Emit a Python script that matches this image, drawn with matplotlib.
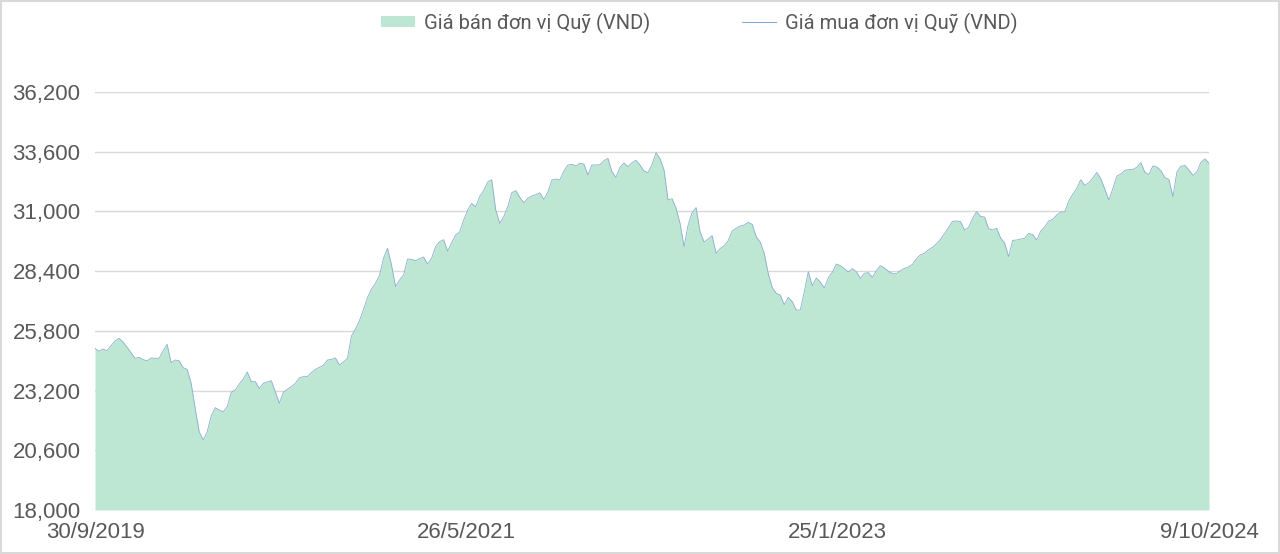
import matplotlib
matplotlib.use("Agg")
import matplotlib.pyplot as plt
from matplotlib.patches import Patch, Rectangle
from matplotlib.lines import Line2D
import numpy as np

plt.rcParams['font.family'] = ['Liberation Sans', 'DejaVu Sans']

# Fund unit price (VND), roughly weekly samples from 30/9/2019 to 9/10/2024
prices = [
    25040, 24910, 25010, 24940, 25155, 25360, 25475, 25315, 25095, 24850,
    24605, 24645, 24545, 24500, 24620, 24605, 24605, 24940, 25215, 24415,
    24530, 24500, 24195, 24125, 23515, 22425, 21410, 21050, 21410, 22095,
    22455, 22355, 22280, 22500, 23125, 23225, 23485, 23705, 24010, 23590,
    23590, 23295, 23515, 23575, 23630, 23150, 22645, 23125, 23255, 23370,
    23515, 23760, 23805, 23805, 23980, 24125, 24210, 24300, 24530, 24560,
    24620, 24315, 24445, 24605, 25575, 25880, 26245, 26735, 27245,
    27620, 27870, 28220, 28960, 29395, 28665, 27725, 28015, 28230, 28930,
    28915, 28855, 28945, 29015, 28710, 28960, 29465, 29685, 29770, 29275,
    29640, 29975, 30105, 30625, 31060, 31350, 31205, 31655, 31905, 32280,
    32380, 31060, 30480, 30770, 31205, 31815, 31905, 31615, 31380, 31570,
    31670, 31730, 31815, 31525, 31830, 32370, 32410, 32370, 32760, 33020,
    33050, 32980, 33095, 33065, 32585, 33020, 33020, 33035, 33210, 33310,
    32730, 32485, 32920,
    33110, 32950, 33125, 33225, 33020, 32760, 32690, 33035, 33560, 33295,
    32805, 31495, 31555, 31135, 30480, 29465, 30395, 30945, 31165, 30105,
    29670, 29800, 29945, 29175, 29380, 29510, 29725, 30150, 30265, 30365,
    30410, 30525, 30440, 29900, 29670, 29175, 28305, 27695, 27435, 27360,
    26940, 27260, 27070, 26710, 26710, 27505, 28375, 27765, 28100, 27925,
    27665, 28115, 28350, 28710, 28640, 28510, 28365, 28510, 28375, 28085,
    28305, 28335, 28130, 28420, 28640,
    28535, 28390, 28290, 28290, 28420, 28520, 28580, 28695, 28945, 29115,
    29175, 29335, 29435, 29595, 29785, 30030, 30295, 30570, 30585, 30555,
    30190, 30305, 30700, 30990, 30785, 30755, 30250, 30190, 30265, 29845,
    29625, 29030, 29740, 29755, 29800, 29830, 30045, 29990, 29755, 30135,
    30320, 30585, 30655, 30845, 30975, 30975, 31455, 31745, 32005, 32385,
    32135, 32250, 32455, 32700, 32425, 31975, 31495, 31990, 32540, 32630,
    32790, 32820, 32835, 32920, 33125, 32700, 32615, 32980, 32935, 32775,
    32470, 32395, 31640, 32730, 32965, 33005, 32805, 32570, 32730, 33150,
    33285, 33095,
]

date_labels = ["30/9/2019", "26/5/2021", "25/1/2023", "9/10/2024"]
y_ticks = [18000, 20600, 23200, 25800, 28400, 31000, 33600, 36200]
series_names = ["Giá bán đơn vị Quỹ (VND)", "Giá mua đơn vị Quỹ (VND)"]

fill_color = "#bde6d3"
line_color = "#8aaed0"
grid_color = "#d9d9d9"
text_color = "#595959"

fig = plt.figure(figsize=(12.8, 5.54), dpi=100)
ax = fig.add_axes([95/1280, 44/554, (1209-95)/1280, (510-92)/554])

x = np.arange(len(prices))
ax.fill_between(x, prices, y_ticks[0], color=fill_color, linewidth=0, zorder=2)
ax.plot(x, prices, color=line_color, linewidth=0.6, zorder=3)

ax.set_xlim(0, len(prices) - 1)
ax.set_ylim(y_ticks[0], y_ticks[-1])
ax.set_yticks(y_ticks)
ax.set_yticklabels([f"{v:,}" for v in y_ticks])
n = len(prices) - 1
ax.set_xticks([0, n / 3, 2 * n / 3, n])
ax.set_xticklabels(date_labels)

ax.grid(axis='y', color=grid_color, linewidth=1.0, zorder=1)
ax.set_axisbelow(True)
for s in ax.spines.values():
    s.set_visible(False)
ax.tick_params(axis='y', length=0, pad=10.5, labelsize=16, labelcolor=text_color)
ax.tick_params(axis='x', length=0, pad=9, labelsize=16, labelcolor=text_color)

handles = [Patch(facecolor=fill_color, edgecolor='none'),
           Line2D([0], [0], color=line_color, linewidth=0.8)]
fig.legend(handles, series_names, loc='center', bbox_to_anchor=(699/1280, 1 - 23/554),
           ncol=2, frameon=False, labelcolor=text_color,
           prop={'family': ['Roboto', 'DejaVu Sans'], 'size': 14.5},
           handlelength=1.69, handleheight=0.5, handletextpad=0.45, columnspacing=4.55)

fig.add_artist(Rectangle((0.0005, 0.001), 0.999, 0.998, transform=fig.transFigure,
                         fill=False, edgecolor=grid_color, linewidth=1.5))

fig.savefig("out.png", dpi=100)
